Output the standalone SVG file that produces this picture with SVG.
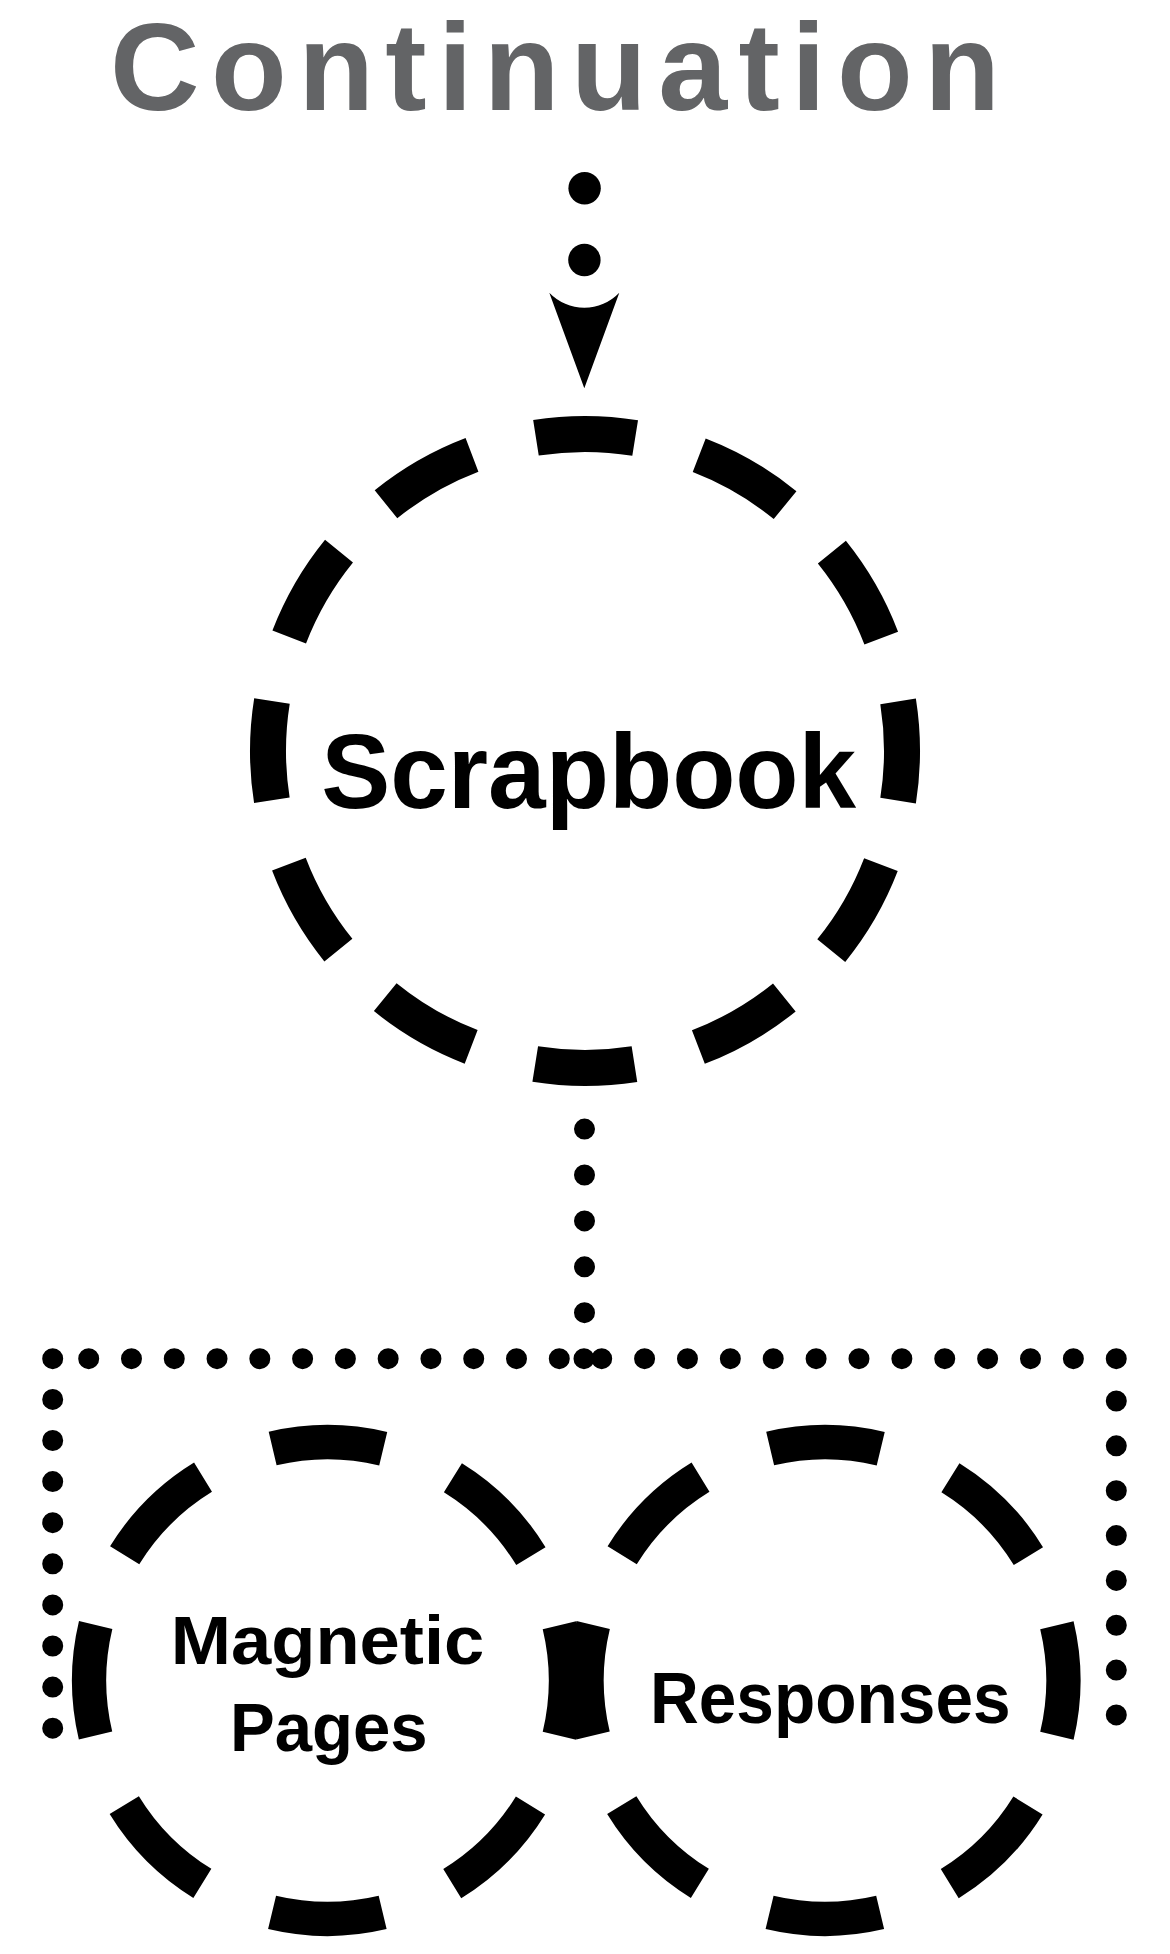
<svg xmlns="http://www.w3.org/2000/svg" width="1170" height="1954" viewBox="0 0 1170 1954">
  <style>
    .bg { fill: #ffffff; }
    .title { font-family: "Liberation Sans", Arial, sans-serif; font-weight: bold; fill: #636466; }
    .label { font-family: "Liberation Sans", Arial, sans-serif; font-weight: bold; fill: #000000; text-anchor: middle; }
    .ring-lg { fill: none; stroke: #000000; stroke-width: 36; stroke-dasharray: 99.59 66.39; stroke-dashoffset: 132.78; }
    .ring-sm { fill: none; stroke: #000000; stroke-width: 34.3; stroke-dasharray: 111.51 75.73; stroke-dashoffset: 149.38; }
    .dots { fill: none; stroke: #000000; stroke-width: 21; stroke-linecap: round; }
    .bigdot { fill: #000000; }
    .arrowhead { fill: #000000; }
  </style>
  <rect class="bg" x="0" y="0" width="1170" height="1954"/>

  <g id="node-continuation">
    <text class="title" x="110" y="110" font-size="124" textLength="890" lengthAdjust="spacing">Continuation</text>
  </g>

  <g id="connectors">
    <g id="edge-continuation-scrapbook">
      <circle class="bigdot" cx="584.6" cy="188.3" r="16.2"/>
      <circle class="bigdot" cx="584.4" cy="260" r="16.2"/>
      <path class="arrowhead" d="M549.3,292.7 A48.5,48.5 0 0 0 619.3,292.7 L584.3,388.3 Z"/>
    </g>
    <g id="edge-scrapbook-children">
      <path class="dots" d="M584.5,1129.1h0 M584.5,1175h0 M584.5,1220.9h0 M584.5,1266.8h0 M584.5,1312.7h0"/>
      <path class="dots" d="M584,1358.7h0 M559.28,1358.7h0 M516.5,1358.7h0 M473.72,1358.7h0 M430.94,1358.7h0 M388.16,1358.7h0 M345.38,1358.7h0 M302.6,1358.7h0 M259.82,1358.7h0 M217.04,1358.7h0 M174.26,1358.7h0 M131.48,1358.7h0 M88.7,1358.7h0 M52.7,1358.7h0 M52.7,1399.4h0 M52.7,1440.5h0 M52.7,1481.6h0 M52.7,1522.7h0 M52.7,1563.8h0 M52.7,1604.9h0 M52.7,1646h0 M52.7,1687.1h0 M52.7,1728.2h0"/>
      <path class="dots" d="M601.7,1358.7h0 M644.58,1358.7h0 M687.46,1358.7h0 M730.34,1358.7h0 M773.22,1358.7h0 M816.1,1358.7h0 M858.98,1358.7h0 M901.86,1358.7h0 M944.74,1358.7h0 M987.62,1358.7h0 M1030.5,1358.7h0 M1073.38,1358.7h0 M1116.26,1358.7h0 M1116.3,1401h0 M1116.3,1445.85h0 M1116.3,1490.7h0 M1116.3,1535.55h0 M1116.3,1580.4h0 M1116.3,1625.25h0 M1116.3,1670.1h0 M1116.3,1714.95h0"/>
    </g>
  </g>

  <g id="node-scrapbook">
    <circle class="ring-lg" cx="585" cy="751" r="317" transform="rotate(-15 585 751)"/>
    <text class="label" x="588.7" y="807.6" font-size="105" textLength="535" lengthAdjust="spacingAndGlyphs">Scrapbook</text>
  </g>

  <g id="node-magnetic-pages">
    <circle class="ring-sm" cx="327.5" cy="1680.5" r="238.4" transform="rotate(-22.5 327.5 1680.5)"/>
    <text class="label" x="327.5" y="1664" font-size="69" textLength="313.6" lengthAdjust="spacingAndGlyphs">Magnetic</text>
    <text class="label" x="328.8" y="1750.7" font-size="69" textLength="197.7" lengthAdjust="spacingAndGlyphs">Pages</text>
  </g>

  <g id="node-responses">
    <circle class="ring-sm" cx="825" cy="1680.5" r="238.4" transform="rotate(-22.5 825 1680.5)"/>
    <text class="label" x="830.3" y="1723.3" font-size="72" textLength="360.7" lengthAdjust="spacingAndGlyphs">Responses</text>
  </g>
</svg>
